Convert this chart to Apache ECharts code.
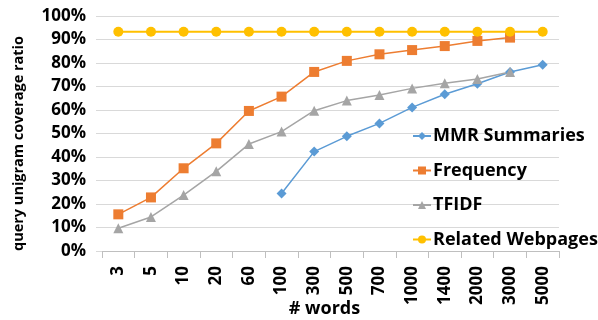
<!DOCTYPE html>
<html><head><meta charset="utf-8">
<script src="https://cdn.jsdelivr.net/npm/echarts@6/dist/echarts.min.js"></script>
<style>html,body{margin:0;padding:0;background:#fff}#c{width:598px;height:320px}</style>
</head><body><div id="c"></div>
<script>
var categories = ['3','5','10','20','60','100','300','500','700','1000','1400','2000','3000','5000'];
var mmr = [null,null,null,null,null,24.5,42.3,48.8,54.3,61.1,66.7,71.2,76.2,79.3];
var frequency = [15.6,22.8,35.2,45.8,59.6,65.7,76.2,80.9,83.7,85.5,87.2,89.4,90.8,null];
var tfidf = [9.7,14.5,23.8,33.9,45.5,50.8,59.7,64.0,66.4,69.2,71.4,73.2,76.2,null];
var related = [93.3,93.3,93.3,93.3,93.3,93.3,93.3,93.3,93.3,93.3,93.3,93.3,93.3,93.3];
var yTicks = [0,10,20,30,40,50,60,70,80,90,100];

var font = 'Open Sans';
var chart = echarts.init(document.getElementById('c'), null, {renderer:'canvas'});
function s(name, data, color, symbol, size, width){
  return {name:name, type:'line', data:data, symbol:symbol, symbolSize:size, showSymbol:true,
    itemStyle:{color:color}, lineStyle:{color:color, width:width}, connectNulls:false, animation:false};
}
chart.setOption({
  animation:false,
  grid:{left:102, right:39, top:16, bottom:69, containLabel:false, outerBoundsMode:'none'},
  legend:{orient:'vertical', left:407, top:122, itemGap:16.5, itemWidth:18, itemHeight:10,
    data:['MMR Summaries','Frequency','TFIDF','Related Webpages'],
    textStyle:{fontFamily:font, fontWeight:'bold', fontSize:18, lineHeight:18, color:'#000', padding:[0,0,0,-3]}},
  xAxis:{type:'category', data:categories, boundaryGap:true,
    name:'# words', nameLocation:'middle', nameGap:49, nameMoveOverlap:false,
    nameTextStyle:{fontFamily:font, fontWeight:'bold', fontSize:18, color:'#000', padding:[0,12,0,0]},
    axisLine:{lineStyle:{color:'#BFBFBF', width:1}},
    axisTick:{show:true, length:7, alignWithLabel:false, lineStyle:{color:'#BFBFBF'}},
    axisLabel:{rotate:90, margin:15, fontFamily:font, fontWeight:'bold', fontSize:17, color:'#000', interval:0},
    splitLine:{show:false}},
  yAxis:{type:'value', min:0, max:100, interval:10,
    name:'query unigram coverage ratio', nameLocation:'middle', nameGap:76, nameRotate:90, nameMoveOverlap:false,
    nameTextStyle:{fontFamily:font, fontWeight:'bold', fontSize:14.5, color:'#000', padding:[0,20,0,0]},
    axisLine:{show:false},
    axisTick:{show:true, length:6, lineStyle:{color:'#D9D9D9'}},
    axisLabel:{margin:16, fontFamily:font, fontWeight:'bold', fontSize:17, color:'#000',
      formatter:function(v){return yTicks.indexOf(v)>=0 ? v+'%' : '';}},
    splitLine:{lineStyle:{color:'#D9D9D9', width:1}}},
  series:[
    s('MMR Summaries', mmr, '#5B9BD5', 'diamond', 10, 1.5),
    s('Frequency', frequency, '#ED7D31', 'rect', 10, 1.5),
    s('TFIDF', tfidf, '#A5A5A5', 'triangle', 10, 1.5),
    s('Related Webpages', related, '#FFC000', 'circle', 10, 2)
  ]
});
</script></body></html>
